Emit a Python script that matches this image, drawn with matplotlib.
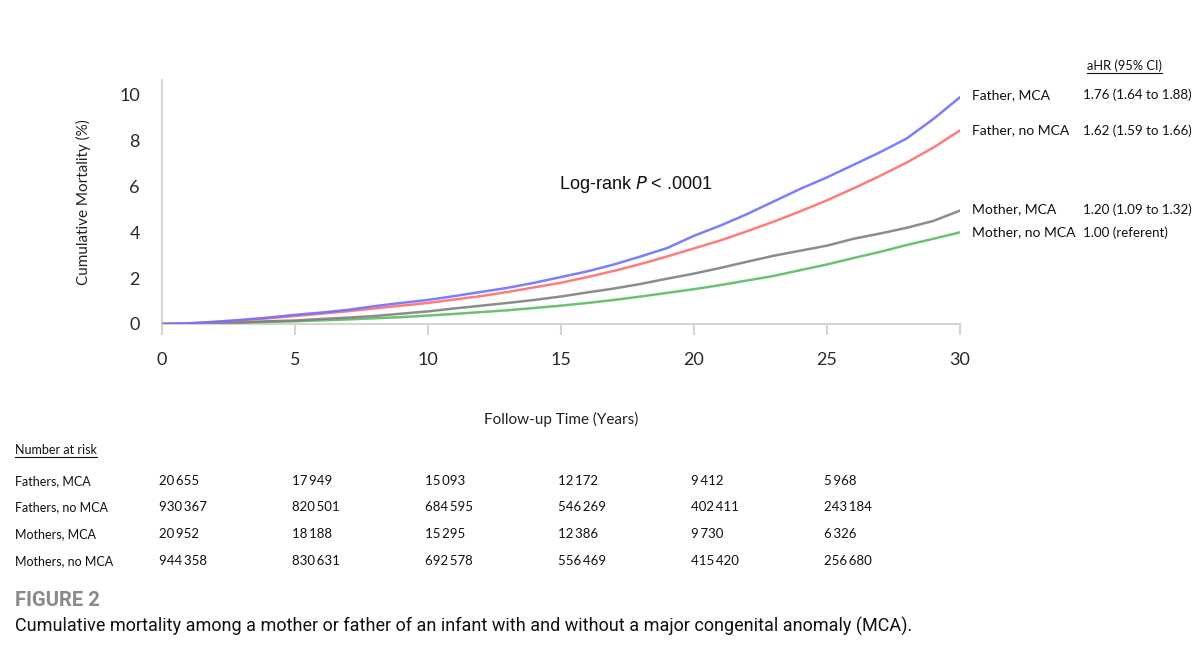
import matplotlib
matplotlib.use("Agg")
import matplotlib.pyplot as plt
import matplotlib.transforms as mtransforms
from matplotlib.lines import Line2D

# ---------------- data ----------------
years = list(range(0, 31))
father_mca = [0, 0.03, 0.10, 0.18, 0.28, 0.40, 0.50, 0.62, 0.78, 0.92, 1.05, 1.22, 1.40, 1.58,
              1.80, 2.05, 2.30, 2.60, 2.95, 3.32, 3.85, 4.30, 4.80, 5.35, 5.90, 6.40, 6.95,
              7.50, 8.10, 8.95, 9.90]
father_nomca = [0, 0.02, 0.08, 0.16, 0.25, 0.35, 0.45, 0.56, 0.68, 0.80, 0.92, 1.07, 1.22, 1.40,
                1.60, 1.80, 2.05, 2.32, 2.62, 2.95, 3.30, 3.65, 4.05, 4.47, 4.92, 5.40, 5.92,
                6.47, 7.05, 7.70, 8.45]
mother_mca = [0, 0.0, 0.05, 0.08, 0.12, 0.15, 0.22, 0.28, 0.35, 0.45, 0.55, 0.68, 0.80, 0.92,
              1.05, 1.20, 1.38, 1.55, 1.75, 1.98, 2.20, 2.45, 2.72, 2.98, 3.20, 3.42, 3.72,
              3.95, 4.20, 4.50, 4.95]
mother_nomca = [0, 0.0, 0.03, 0.06, 0.09, 0.12, 0.16, 0.20, 0.25, 0.30, 0.37, 0.44, 0.52, 0.60,
                0.70, 0.80, 0.92, 1.05, 1.20, 1.36, 1.52, 1.70, 1.90, 2.10, 2.35, 2.60, 2.88,
                3.15, 3.45, 3.72, 4.00]

series_labels = ["Father, MCA", "Father, no MCA", "Mother, MCA", "Mother, no MCA"]
series_colors = ["#6f6fff", "#ff6e6e", "#808080", "#5cbb66"]
ahr_text = ["1.76 (1.64 to 1.88)", "1.62 (1.59 to 1.66)", "1.20 (1.09 to 1.32)", "1.00 (referent)"]

x_ticks = [0, 5, 10, 15, 20, 25, 30]
y_ticks = [0, 2, 4, 6, 8, 10]

risk_times = [0, 5, 10, 15, 20, 25]
risk_labels = ["Fathers, MCA", "Fathers, no MCA", "Mothers, MCA", "Mothers, no MCA"]
risk_fathers_mca = [20655, 17949, 15093, 12172, 9412, 5968]
risk_fathers_nomca = [930367, 820501, 684595, 546269, 402411, 243184]
risk_mothers_mca = [20952, 18188, 15295, 12386, 9730, 6326]
risk_mothers_nomca = [944358, 830631, 692578, 556469, 415420, 256680]

# ---------------- figure ----------------
W, H = 1200, 648
fig = plt.figure(figsize=(W / 100, H / 100), dpi=100)
FONT = ["Lato", "DejaVu Sans"]
CAP = ["Roboto", "DejaVu Sans"]

ax = fig.add_axes([162 / W, 1 - 324 / H, (960 - 162) / W, (324 - 80) / H])
ax.set_xlim(0, 30)
ax.set_ylim(0, 10.65)

all_series = [father_mca, father_nomca, mother_mca, mother_nomca]
for vals, col in zip(all_series[::-1], series_colors[::-1]):
    ax.plot(years, vals, color=col, lw=1.8, alpha=0.9, solid_capstyle="round", zorder=3)

for s in ["top", "right"]:
    ax.spines[s].set_visible(False)
for s in ["left", "bottom"]:
    ax.spines[s].set_color("#d4d4d4")
    ax.spines[s].set_linewidth(1.5)

ax.set_xticks(x_ticks)
ax.set_xticklabels([str(t) for t in x_ticks], fontfamily=FONT, fontsize=13, color="#2a2a2a")
ax.set_yticks(y_ticks)
ax.set_yticklabels([str(t) for t in y_ticks], fontfamily=FONT, fontsize=13, color="#2a2a2a")
ax.tick_params(axis="x", length=8, width=1.5, color="#d4d4d4", pad=12)
ax.tick_params(axis="y", length=0, pad=16)

ax.set_ylabel("Cumulative Mortality (%)", fontfamily=FONT, fontsize=11, labelpad=20, color="#222222")
ax.set_xlabel("Follow-up Time (Years)", fontfamily=FONT, fontsize=11, labelpad=32, color="#222222")

ax.text(14.93, 6.1, "Log-rank $\\it{P}$ < .0001", fontfamily=["Liberation Sans", "DejaVu Sans"],
        fontsize=13, ha="left", va="center", color="#111111")

# right labels
label_y = [father_mca[-1] + 0.1, father_nomca[-1], mother_mca[-1] + 0.05, mother_nomca[-1]]
tr = mtransforms.blended_transform_factory(fig.transFigure, ax.transData)
for lab, yv, ah in zip(series_labels, label_y, ahr_text):
    ax.annotate(lab, xy=(30, yv), xytext=(9, 0), textcoords="offset points",
                fontfamily=FONT, fontsize=10, va="center", ha="left", annotation_clip=False,
                color="#111111")
    ax.text(1083 / W, yv, ah, transform=tr, fontfamily=FONT, fontsize=9.6,
            va="center", ha="left", color="#111111", clip_on=False)

hdr = fig.text(1087 / W, 1 - 66 / H, "aHR (95% CI)", fontfamily=FONT, fontsize=9.3,
               va="center", ha="left", color="#111111")

# number at risk table
tr_tab = mtransforms.blended_transform_factory(ax.transData, fig.transFigure)
nar = fig.text(15 / W, 1 - 450 / H, "Number at risk", fontfamily=FONT, fontsize=9,
               va="center", ha="left", color="#111111")
risk_rows = [risk_fathers_mca, risk_fathers_nomca, risk_mothers_mca, risk_mothers_nomca]
row_y = [481, 507, 534, 561]
for lab, row, py in zip(risk_labels, risk_rows, row_y):
    fig.text(15 / W, 1 - py / H, lab, fontfamily=FONT, fontsize=9, va="center", ha="left",
             color="#111111")
    for t, n in zip(risk_times, row):
        s = f"{n:,}".replace(",", "\u2009")
        ax.text(t - 0.12, 1 - py / H, s, transform=tr_tab, fontfamily=FONT, fontsize=9.5,
                va="center", ha="left", color="#111111", clip_on=False)

fig.text(15 / W, 1 - 601 / H, "FIGURE 2", fontfamily=CAP, fontsize=14.5, fontweight="bold",
         va="center", ha="left", color="#8a8a8a")
fig.text(15 / W, 1 - 626 / H,
         "Cumulative mortality among a mother or father of an infant with and without a major congenital anomaly (MCA).",
         fontfamily=CAP, fontsize=13, va="center", ha="left", color="#111111")

# underlines
fig.canvas.draw()
renderer = fig.canvas.get_renderer()
for t in [hdr, nar]:
    bb = t.get_window_extent(renderer)
    y0 = bb.y0 - 1
    fig.add_artist(Line2D([bb.x0 / W, bb.x1 / W], [y0 / H, y0 / H], transform=fig.transFigure,
                          color="#111111", lw=0.8))

fig.savefig("out.png", dpi=100)
